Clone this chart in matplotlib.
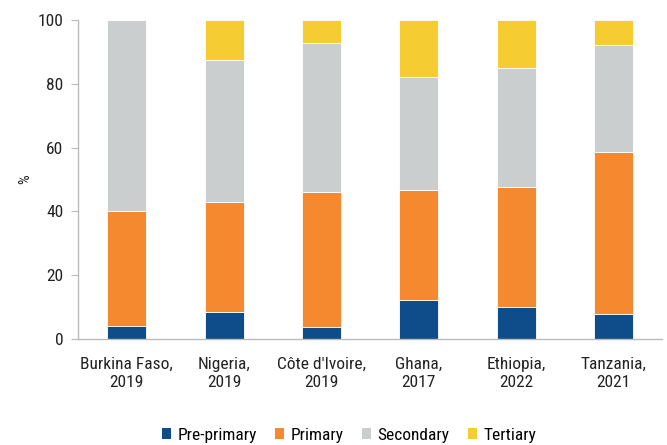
import matplotlib
matplotlib.use("Agg")
import matplotlib.pyplot as plt
from matplotlib.patches import Patch
from matplotlib import font_manager as fm

categories = ["Burkina Faso,\n2019", "Nigeria,\n2019", "Côte d'Ivoire,\n2019",
              "Ghana,\n2017", "Ethiopia,\n2022", "Tanzania,\n2021"]
pre_primary = [4.1, 8.6, 3.8, 12.3, 10.2, 8.0]
primary = [36.2, 34.5, 42.3, 34.3, 37.5, 50.7]
secondary = [59.7, 44.5, 46.8, 35.5, 37.3, 33.4]
tertiary = [0.0, 12.4, 7.1, 17.9, 15.0, 7.9]
series_names = ["Pre-primary", "Primary", "Secondary", "Tertiary"]
colors = ["#0F4D8A", "#F5892F", "#CBCECF", "#F5CD33"]

# pick a condensed font if available
names = {f.name for f in fm.fontManager.ttflist}
condensed_roboto = any(f.name == "Roboto" and "condensed" in str(f.stretch).lower()
                       for f in fm.fontManager.ttflist)
family = None
for cand in ["Roboto Condensed", "Liberation Sans Narrow", "DejaVu Sans Condensed"]:
    if cand in names:
        family = cand
        break
if family is None:
    family = "Roboto"
    if condensed_roboto:
        plt.rcParams['font.stretch'] = 'condensed'
plt.rcParams['font.family'] = [family, 'DejaVu Sans']

fig = plt.figure(figsize=(6.67, 4.45), dpi=100)
ax = fig.add_axes([0.117, 0.238, 0.876, 0.717])

x = list(range(len(categories)))
bottom = [0.0] * len(categories)
for vals, name, col in zip([pre_primary, primary, secondary, tertiary], series_names, colors):
    ax.bar(x, vals, bottom=bottom, width=0.4, color=col, edgecolor="white", linewidth=0.6, label=name)
    bottom = [b + v for b, v in zip(bottom, vals)]

ax.set_xlim(-0.5, 5.5)
ax.set_ylim(0, 100)
ax.set_yticks([0, 20, 40, 60, 80, 100])
ax.set_xticks(x)
ax.set_xticklabels(categories, fontsize=12.5, color="#222222", linespacing=1.2)
ax.tick_params(axis='y', labelsize=12.5, colors="#222222", length=5, pad=5.5, color="#BBBBBB")
ax.tick_params(axis='x', length=0, pad=13)
ax.set_ylabel("%", fontsize=11, color="#222222", labelpad=4)
for s in ["top", "right"]:
    ax.spines[s].set_visible(False)
for s in ["left", "bottom"]:
    ax.spines[s].set_color("#BBBBBB")
    ax.spines[s].set_linewidth(1.0)

handles = [Patch(facecolor=c, edgecolor='none') for c in colors]
fig.legend(handles, series_names, loc="center", bbox_to_anchor=(0.523, 0.022), ncol=4,
           frameon=False, fontsize=12.5, handlelength=0.55, handleheight=0.55,
           handletextpad=0.35, columnspacing=1.05)

fig.savefig("out.png", dpi=100)
